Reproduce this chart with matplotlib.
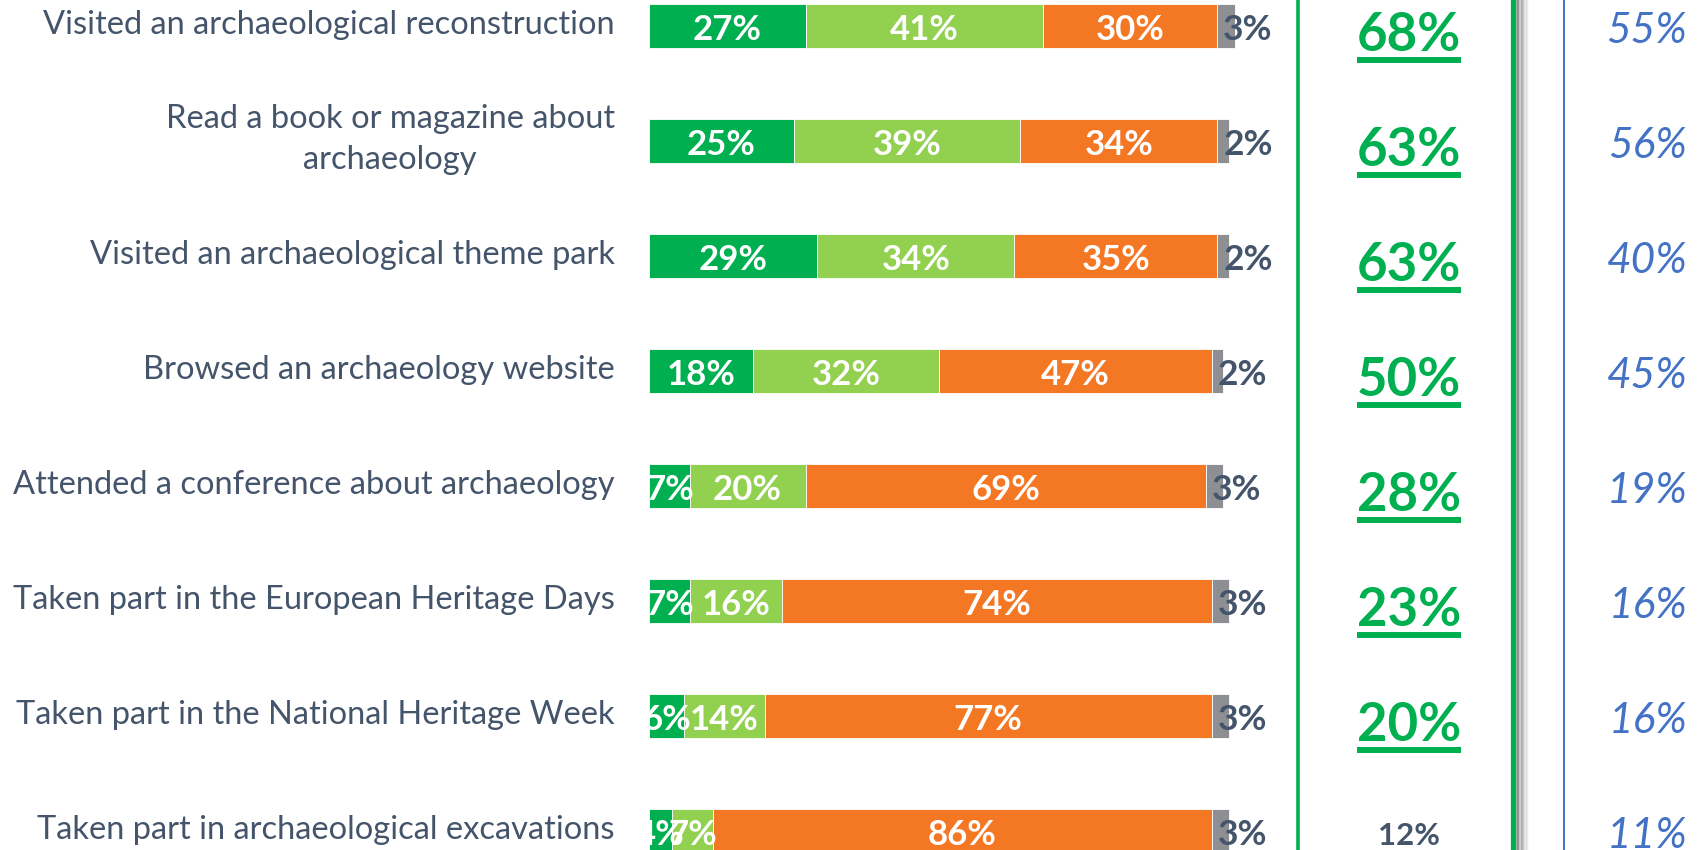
import matplotlib
matplotlib.use("Agg")
import matplotlib.pyplot as plt

# survey rows, top to bottom
categories = [
    "Visited an archaeological reconstruction",
    "Read a book or magazine about\narchaeology",
    "Visited an archaeological theme park",
    "Browsed an archaeology website",
    "Attended a conference about archaeology",
    "Taken part in the European Heritage Days",
    "Taken part in the National Heritage Week",
    "Taken part in archaeological excavations",
]
often = [27, 25, 29, 18, 7, 7, 6, 4]
sometimes = [41, 39, 34, 32, 20, 16, 14, 7]
never = [30, 34, 35, 47, 69, 74, 77, 86]
no_answer = [3, 2, 2, 2, 3, 3, 3, 3]
total_active = [68, 63, 63, 50, 28, 23, 20, 12]
comparison = [55, 56, 40, 45, 19, 16, 16, 11]

DARK_GREEN = "#00B050"
LIGHT_GREEN = "#92D050"
ORANGE = "#F47724"
GREY = "#8E8F93"
SLATE = "#44546A"
BLUE = "#4472C4"

plt.rcParams["font.family"] = ["Lato", "DejaVu Sans"]

W, H = 1698, 850
fig = plt.figure(figsize=(W / 100, H / 100), dpi=100)
ax = fig.add_axes([0, 0, 1, 1])

# one axes over the whole figure: x in percent (0 at px 649, 100 at px 1229)
px_per_pct = 5.8
x0 = 649
ax.set_xlim(-x0 / px_per_pct, (W - x0) / px_per_pct)
row_px = 115
ax.set_ylim((H - 26) / row_px, -26 / row_px)
ax.axis("off")

rows = range(len(categories))
bar_h = 0.39

left = [0] * len(categories)
for vals, col in [(often, DARK_GREEN), (sometimes, LIGHT_GREEN), (never, ORANGE), (no_answer, GREY)]:
    ax.barh(rows, vals, left=left, height=bar_h, color=col, edgecolor="white", linewidth=0.6)
    for i, v in enumerate(vals):
        if col == GREY:
            ax.text(left[i] + 1, i + 0.01, f"{v}%", ha="left", va="center_baseline",
                    fontsize=25.5, fontweight="bold", color=SLATE)
        else:
            ax.text(left[i] + v / 2, i + 0.01, f"{v}%", ha="center", va="center_baseline",
                    fontsize=25, fontweight="bold", color="white", clip_on=False)
    left = [l + v for l, v in zip(left, vals)]

for i, cat in enumerate(categories):
    ax.text(-5.9, i - 0.01, cat, ha="right", va="center", fontsize=23.5, color=SLATE,
            multialignment="center", linespacing=1.45)

# right-hand panel
box_l, box_r, blue_x = 111.9, 149.0, 157.8
ax.axvline(box_l, color=DARK_GREEN, lw=2.6)
for k in range(10):
    ax.axvline(box_r + 0.6 + k * 0.22, color="black", lw=1.4, alpha=0.28 * (1 - k / 10))
ax.axvline(box_r, color=DARK_GREEN, lw=3.8)
ax.axvline(blue_x, color=BLUE, lw=1.4)

fig.canvas.draw()
renderer = fig.canvas.get_renderer()
inv = ax.transData.inverted()
for i, v in enumerate(total_active):
    if i < len(total_active) - 1:
        t = ax.text(131.0, i + 0.04, f"{v}%", ha="center", va="center_baseline",
                    fontsize=38, fontweight="bold", color=DARK_GREEN)
        bb = t.get_window_extent(renderer)
        (xa, _), (xb, _) = inv.transform([(bb.x0, 0), (bb.x1, 0)])
        ax.plot([xa, xb], [i + 0.295, i + 0.295], color=DARK_GREEN, lw=4.3,
                solid_capstyle="butt")
    else:
        ax.text(131.0, i + 0.02, f"{v}%", ha="center", va="center_baseline",
                fontsize=22.5, fontweight="bold", color=SLATE)

for i, v in enumerate(comparison):
    ax.text(179.0, i + 0.015, f"{v}%", ha="right", va="center_baseline",
            fontsize=30.5, fontstyle="italic", color=BLUE)

fig.savefig("out.png", dpi=100)
